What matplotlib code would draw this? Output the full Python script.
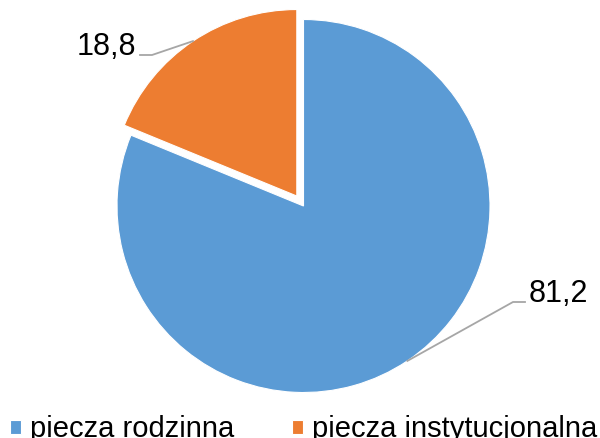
import numpy as np
import matplotlib.pyplot as plt

plt.rcParams['font.family'] = ['Liberation Sans', 'DejaVu Sans']

labels = ['piecza rodzinna', 'piecza instytucjonalna']
values = [81.2, 18.8]
value_text = ['81,2', '18,8']
colors = ['#5B9BD5', '#ED7D31']
explode = [0, 12]  # data units (pie is drawn in pixel-sized units)

fig = plt.figure(figsize=(6, 4.38), dpi=100)
ax = fig.add_axes([0, 0, 1, 1])

R = 186.5
C = (303.5, 232)
wedges, _ = ax.pie(values, colors=colors, explode=explode, startangle=90,
                   counterclock=False, radius=R, center=C,
                   wedgeprops=dict(linewidth=0.8, edgecolor='white'),
                   frame=True)
ax.set_xlim(0, 600)
ax.set_ylim(0, 438)
ax.set_aspect('equal')
ax.axis('off')

# leader lines + value labels
elbow = [(209.5, -96), (-151.5, 151)]
for w, txt, e, in zip(wedges, value_text, elbow):
    mid = np.deg2rad((w.theta1 + w.theta2) / 2)
    cx, cy = w.center
    p0 = (cx + w.r * np.cos(mid), cy + w.r * np.sin(mid))
    p1 = (C[0] + e[0], C[1] + e[1])
    side = 1 if e[0] > 0 else -1
    p2 = (p1[0] + 12 * side, p1[1])
    ax.plot([p0[0], p1[0], p2[0]], [p0[1], p1[1], p2[1]], color='#A6A6A6', lw=1.3)
    ax.text(p2[0] + 4 * side, p2[1], txt, fontsize=22,
            ha='left' if side > 0 else 'right', va='baseline')

fig.legend(wedges, labels, loc='lower left', bbox_to_anchor=(10 / 600, -0.012),
           ncol=2, frameon=False, fontsize=21, borderpad=0, borderaxespad=0,
           handlelength=0.37, handleheight=0.37, handletextpad=0.3,
           columnspacing=2.0)

fig.savefig('out.png', dpi=100)
